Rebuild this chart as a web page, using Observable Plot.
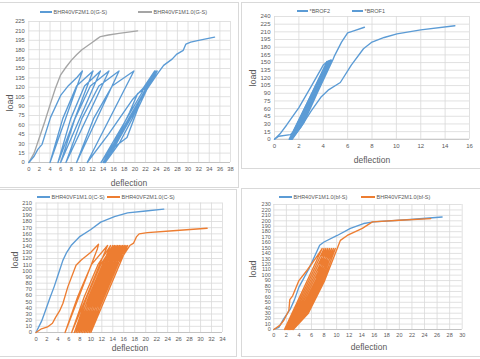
<!DOCTYPE html>
<html><head><meta charset="utf-8">
<script src="https://cdn.jsdelivr.net/npm/d3@7"></script>
<script src="https://cdn.jsdelivr.net/npm/@observablehq/plot@0.6"></script>
<style>
body{margin:0;background:#fff;font-family:"Liberation Sans",Arial,sans-serif}
#wrap{position:relative;width:480px;height:359px;overflow:hidden;background:#fff}
.box{position:absolute;border:1px solid #d9d9d9;box-sizing:border-box}
.pl{position:absolute}
.ttl{position:absolute;color:#595959;white-space:nowrap;line-height:1;font-size:8.5px;transform:translate(-50%,-50%)}
.rot{transform:translate(-50%,-50%) rotate(-90deg)}
.lg{position:absolute;font-size:5.5px;color:#595959;white-space:nowrap;line-height:6px;height:6px}
.sw{display:inline-block;height:1.4px;vertical-align:middle;margin-right:1.5px;position:relative;top:-0.5px}
</style></head><body><div id="wrap"></div><script>
const BLUE = "#5b9bd5", ORANGE = "#ed7d31", GRAY = "#a5a5a5";

// ---- Panel 1 (G-S)
const p1XTicks = [0,2,4,6,8,10,12,14,16,18,20,22,24,26,28,30,32,34,36,38];
const p1YTicks = [0,15,30,45,60,75,90,105,120,135,150,165,180,195,210,225];
const p1Names = ["BHR40VF2M1.0(G-S)","BHR40VF1M1.0(G-S)"];
const p1Gray = [[0,0],[1,15],[2,40],[3,65],[4,92],[5,118],[6,140],[7,152],[8,163],[9,172],[10,180],[11,186],[12,192],[13,198],[13.5,201],[15,203.5],[17,206],[20.5,210]];
const p1Blue = [[0,0],[1,10],[1.7,21],[2.5,29],[4.1,72],[6,107],[7.5,123],[9.1,136],[10.1,146],
 [4,0],[6.4,70],[9,122],[12.1,146],
 [5.5,0],[7.9,70],[10.5,122],[13.5,146],
 [6,0],[8.7,70],[11.6,122],[15.1,146],
 [7,0],[10,70],[13.2,122],[17,146],
 [9,0],[12.2,70],[15.7,122],[19.8,146],
 [11,0],[15,45],[19.5,100],[21.5,118],[23.7,146],
 [13.6,0],[16,30],[19,80],[20.5,110],[22,118],[24,146],
 [14,0],[16.5,30],[19.5,75],[21,100],[22.5,120],[24.2,146],
 [14.2,0],[16.2,25],[18.5,40],[20.5,85],[22,112],[23.9,146],
 [14.4,0],[17,30],[19.5,70],[21,100],[22.5,120],[24.2,141],[25.4,155],[27,165],[27.9,173],[29.1,179],[29.6,189],[30.5,192],[32,195],[35,200]];

// ---- Panel 2 (BROF)
const p2XTicks = [0,2,4,6,8,10,12,14,16];
const p2YTicks = [0,15,30,45,60,75,90,105,120,135,150,165,180,195,210,225,240];
const p2Names = ["*BROF2","*BROF1"];
const p2BROF2 = [[0,0],[0.5,12],[1,28],[2,62],[3,103],[4,145],[4.4,153],
 [1.2,0],[2,28],[3,80],[4.5,154],
 [1.3,0],[2.2,30],[3.3,88],[4.6,155],
 [1.35,0],[2.3,32],[3.4,90],[4.7,155],
 [1.45,0],[2.4,32],[3.5,90],[4.8,156],[4.9,162],[5.5,190],[6,208],[6.5,212],[7.38,219]];
const p2BROF1 = [[0,0],[0.35,6],[1.3,9],[1.9,22],[2.8,60],[3.6,100],[4.3,152],
 [1.25,0],[2.1,28],[3.2,85],[4.5,153],
 [1.4,0],[2.2,25],[3,55],[3.8,82],[4.4,96],[5.4,111],[6.3,145],[7.3,177],[8,190],[9,199],[10.05,206],[12,214],[14.8,222]];

// ---- Panel 3 (C-S)
const p3XTicks = [0,2,4,6,8,10,12,14,16,18,20,22,24,26,28,30,32,34];
const p3YTicks = [0,10,20,30,40,50,60,70,80,90,100,110,120,130,140,150,160,170,180,190,200,210];
const p3Names = ["BHR40VF1M1.0(C-S)","BHR40VF2M1.0(C-S)"];
const p3Blue = [[0,0],[1,18],[1.5,30],[2.5,55],[3.3,74],[4.2,98],[4.9,117],[5.6,130],[6.4,141],[7.9,155],[10,167],[11.8,179],[14.3,188],[16.7,194],[20,197],[23.3,200]];
const p3Orange = [[0,0],[1,6],[2.1,9],[3,15],[3.6,25],[4.3,35],[4.9,47],[5.8,74],[7.3,109],[8.2,117],[10,130],[11.4,143],[11.2,136],
 [5.3,0],[7.6,58],[10.1,110],[13.05,141],
 [6.5,0],[8.8,58],[11.3,110],[13.6,141],
 [7,0],[9.3,58],[11.8,110],[14,141],
 [7.3,0],[9.6,58],[12.1,110],[14.3,141],
 [7.6,0],[9.9,58],[12.4,110],[14.6,141],
 [7.9,0],[10.2,58],[12.7,110],[14.9,141],
 [8.2,0],[10.5,58],[13,110],[15.2,141],
 [8.5,0],[10.8,58],[13.3,110],[15.5,141],
 [8.8,0],[11.1,58],[13.6,110],[15.8,141],
 [9.1,0],[11.4,58],[13.9,110],[16.1,141],
 [9.4,0],[11.7,58],[14.2,110],[16.4,141],
 [9.7,0],[12,58],[14.5,110],[16.7,141],
 [10,0],[12.3,58],[14.8,110],[17.1,141],[17.8,145],[18.3,155],[18.8,160],[20.3,162],[25,165],[31.2,169]];

// ---- Panel 4 (bf-S)
const p4XTicks = [0,2,4,6,8,10,12,14,16,18,20,22,24,26,28,30];
const p4YTicks = [0,10,20,30,40,50,60,70,80,90,100,110,120,130,140,150,160,170,180,190,200,210,220,230];
const p4Names = ["BHR40VF1M1.0(bf-S)","BHR40VF2M1.0(bf-S)"];
const p4Blue = [[0,0],[0.8,4],[1.6,20],[2.65,38],[3.3,55],[4,78],[4.8,95],[5.6,112],[6.6,137],[7.3,155],[8,161],[10.1,173],[12.2,186],[14.3,195],[15.9,198],[21.2,202],[26.8,207]];
const p4Orange = [[0,0],[1,8],[1.6,17],[2.4,35],[2.55,55],[3,62],[4,90],[5.3,109],[6.6,130],[7.7,149],
 [1.7,0],[4.1,30],[6.7,90],[8,149],
 [1.9,0],[4.3,30],[6.9,90],[8.3,149],
 [2.1,0],[4.5,30],[7.1,90],[8.6,149],
 [2.3,0],[4.7,30],[7.3,90],[8.9,149],
 [2.5,0],[4.9,30],[7.5,90],[9.2,149],
 [2.7,0],[5.1,30],[7.7,90],[9.5,149],
 [2.9,0],[5.3,30],[7.9,90],[9.8,149],
 [3.1,0],[5.5,30],[8.1,90],[10.1,149],[10.6,164],[11.7,173],[14.1,186],[15.7,198],[20,201],[25,204]];

const wrap = document.getElementById("wrap");
function rows(pts){ return pts.map(([x,y]) => ({x, y})); }
function addBox(l,t,w,h){ const d=document.createElement("div"); d.className="box"; Object.assign(d.style,{left:l+"px",top:t+"px",width:w+"px",height:h+"px"}); wrap.appendChild(d); }
function addText(cls, txt, x, y, fs){ const d=document.createElement("div"); d.className=cls; d.textContent=txt; d.style.left=x+"px"; d.style.top=y+"px"; if(fs) d.style.fontSize=fs+"px"; wrap.appendChild(d); }
function addLegend(x, y, color, txt, sw){ const d=document.createElement("div"); d.className="lg"; d.style.left=x+"px"; d.style.top=(y-3)+"px";
  const s=document.createElement("span"); s.className="sw"; s.style.background=color; s.style.width=sw+"px"; d.appendChild(s); d.appendChild(document.createTextNode(txt)); wrap.appendChild(d); }

addBox(-1,2,240,186);
addBox(241,2,240,167);
addBox(-1,189,238,168);
addBox(241,188,240,169);

function panel(c){
  const marks = [
    Plot.ruleX(c.xt, {stroke:"#d9d9d9", strokeWidth:0.8}),
    Plot.ruleY(c.yt, {stroke:"#d9d9d9", strokeWidth:0.8}),
    Plot.ruleY([0], {stroke:"#bfbfbf", strokeWidth:0.9}),
    Plot.axisX({ticks:c.xt, tickSize:0, tickPadding:4, fontSize:c.fs, label:null}),
    Plot.axisY({ticks:c.yt, tickSize:0, tickPadding:c.yp, fontSize:c.fs, label:null}),
    ...c.series.map(s => Plot.line(rows(s.d), {x:"x", y:"y", stroke:s.c, strokeWidth:1.35, strokeLinejoin:"round"}))
  ];
  const svg = Plot.plot({
    width:c.w, height:c.h, marginLeft:c.ml, marginRight:c.mr, marginTop:c.mt, marginBottom:c.mb,
    x:{domain:c.xd, label:null}, y:{domain:c.yd, label:null},
    style:{background:"transparent", color:"#595959", fontFamily:"'Liberation Sans', Arial, sans-serif", overflow:"visible"},
    marks
  });
  svg.classList.add("pl");
  svg.style.left = c.left+"px"; svg.style.top = c.top+"px";
  wrap.appendChild(svg);
}

panel({left:0, top:0, w:240, h:188, ml:28.3, mr:10, mt:21, mb:26, xd:[0,38], yd:[0,225], xt:p1XTicks, yt:p1YTicks, fs:5.8, yp:4,
  series:[{d:p1Gray,c:GRAY},{d:p1Blue,c:BLUE}]});
panel({left:240, top:0, w:240, h:170, ml:34, mr:11, mt:16, mb:31.2, xd:[0,16], yd:[0,240], xt:p2XTicks, yt:p2YTicks, fs:6, yp:4,
  series:[{d:p2BROF1,c:BLUE},{d:p2BROF2,c:BLUE}]});
panel({left:0, top:180, w:240, h:179, ml:35.5, mr:18, mt:22.5, mb:27, xd:[0,34], yd:[0,210], xt:p3XTicks, yt:p3YTicks, fs:5.8, yp:4,
  series:[{d:p3Blue,c:BLUE},{d:p3Orange,c:ORANGE}]});
panel({left:240, top:180, w:240, h:179, ml:33.3, mr:18.3, mt:24, mb:30, xd:[0,30], yd:[0,230], xt:p4XTicks, yt:p4YTicks, fs:5.5, yp:3,
  series:[{d:p4Blue,c:BLUE},{d:p4Orange,c:ORANGE}]});

// axis titles
addText("ttl rot","load",10,103,9);
addText("ttl","deflection",129,183,8.5);
addText("ttl rot","load",253,78,9);
addText("ttl","deflection",372,160,8.5);
addText("ttl rot","load",15,260,9);
addText("ttl","deflection",130,348,8.5);
addText("ttl rot","load",253,269,9);
addText("ttl","deflection",369,347,8.5);

// legends
addLegend(40,12,BLUE,p1Names[0],12);
addLegend(138,12,GRAY,p1Names[1],14);
addLegend(297,11,BLUE,p2Names[0],11);
addLegend(352,11,BLUE,p2Names[1],11);
addLegend(37,197,BLUE,p3Names[0],13);
addLegend(107,197,ORANGE,p3Names[1],13);
addLegend(279,197,BLUE,p4Names[0],13);
addLegend(361,197,ORANGE,p4Names[1],14);
</script></body></html>
